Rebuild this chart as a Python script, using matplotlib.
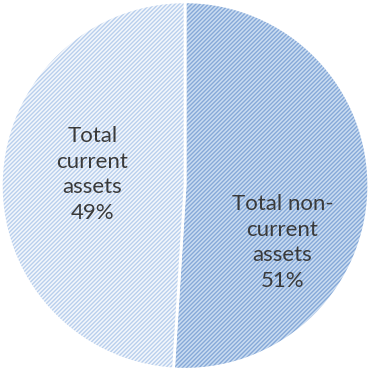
import matplotlib.pyplot as plt
from matplotlib.colors import to_rgba

labels = ['Total non-\ncurrent\nassets', 'Total\ncurrent\nassets']
shares = [51, 49]
face_colors = ['#cadcf1', '#f3f7fc']
hatch_colors = ['#86a9d8', '#b9cfed']
label_pos = [(0.53, -0.31), (-0.505, 0.06)]

plt.rcParams['font.family'] = ['Lato', 'DejaVu Sans']

fig = plt.figure(figsize=(3.71, 3.72), dpi=100)
ax = fig.add_axes([0, 0, 1, 1])

wedges, _ = ax.pie(shares, startangle=90, counterclock=False,
                   colors=face_colors, radius=1.0,
                   wedgeprops=dict(edgecolor='white', linewidth=2))

# fine diagonal hatching on both slices
for w, hc in zip(wedges, hatch_colors):
    w.set_hatch('////////')
    w.set_hatch_linewidth(1.0)
    w._hatch_color = to_rgba(hc)

for lab, val, (x, y) in zip(labels, shares, label_pos):
    ax.text(x, y, f'{lab}\n{val}%', ha='center', va='center',
            fontsize=16, color='#3a3a3a', linespacing=1.35)

ax.set_xlim(-1.005, 1.01)
ax.set_ylim(-1.015, 1.01)
ax.set_aspect('equal')
ax.axis('off')

fig.savefig('out.png', dpi=100)
